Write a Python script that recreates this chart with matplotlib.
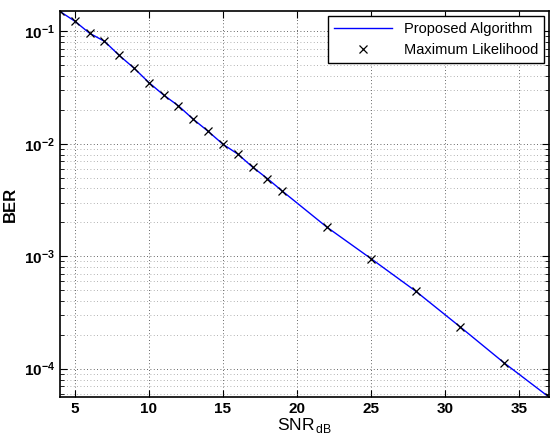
import matplotlib
matplotlib.use("Agg")
import matplotlib.pyplot as plt
from matplotlib.ticker import LogLocator, NullFormatter, FixedLocator

snr_db = [4, 5, 6, 7, 8, 9, 10, 11, 12, 13, 14, 15, 16, 17, 18, 19, 22, 25, 28, 31, 34, 37]
ber_proposed = [0.15, 0.123, 0.096, 0.0815, 0.061, 0.047, 0.035, 0.0271, 0.0217, 0.0165,
                0.0129, 0.0099, 0.0081, 0.0062, 0.0049, 0.0038, 0.00182, 0.00095,
                0.00049, 0.000236, 0.000112, 5.6e-5]
ber_ml = [0.15, 0.123, 0.096, 0.0815, 0.061, 0.047, 0.035, 0.0271, 0.0217, 0.0165,
          0.0129, 0.0099, 0.0081, 0.0062, 0.0049, 0.0038, 0.00182, 0.00095,
          0.00049, 0.000236, 0.000112, 5.6e-5]
x_ticks = [5, 10, 15, 20, 25, 30, 35]

plt.rcParams['font.family'] = ['Liberation Sans', 'DejaVu Sans']

fig = plt.figure(figsize=(5.5, 4.38), dpi=100)
ax = fig.add_axes([0.109, 0.0936, 0.889, 0.881])

ax.semilogy(snr_db, ber_proposed, color='#0000ff', lw=1.0, label='Proposed Algorithm')
ax.semilogy(snr_db, ber_ml, ls='none', marker='x', color='black', ms=6, mew=0.9,
            label='Maximum Likelihood')

ax.set_xlim(4, 37)
ax.set_ylim(5.6e-5, 0.151)
ax.xaxis.set_major_locator(FixedLocator(x_ticks))
ax.yaxis.set_major_locator(LogLocator(base=10, numticks=10))
ax.yaxis.set_minor_locator(LogLocator(base=10, subs=range(2, 10), numticks=20))
ax.yaxis.set_minor_formatter(NullFormatter())

ax.grid(True, which='major', axis='both', ls=(0, (1, 3)), color='black', lw=0.6, alpha=0.8)
ax.grid(True, which='minor', axis='y', ls=(0, (1, 3)), color='gray', lw=0.6, alpha=0.8)

ax.tick_params(which='both', direction='in', top=True, right=True, labelsize=11)
ax.tick_params(which='major', length=5, width=0.8)
ax.tick_params(which='minor', length=3, width=0.6)
for lab in ax.get_xticklabels() + ax.get_yticklabels():
    lab.set_fontweight('bold')
for s in ax.spines.values():
    s.set_linewidth(1.2)

ax.set_ylabel('BER', fontsize=12, fontweight='bold', labelpad=4)
ax.set_xlabel(r'SNR$_{\,\mathregular{dB}}$', fontsize=12.5, labelpad=0)

leg = ax.legend(loc='upper right', fontsize=10.5, frameon=True, fancybox=False,
                edgecolor='black', framealpha=1, borderpad=0.4, handlelength=4,
                borderaxespad=0.35)
leg.get_frame().set_linewidth(1.0)

fig.savefig('out.png', dpi=100)
